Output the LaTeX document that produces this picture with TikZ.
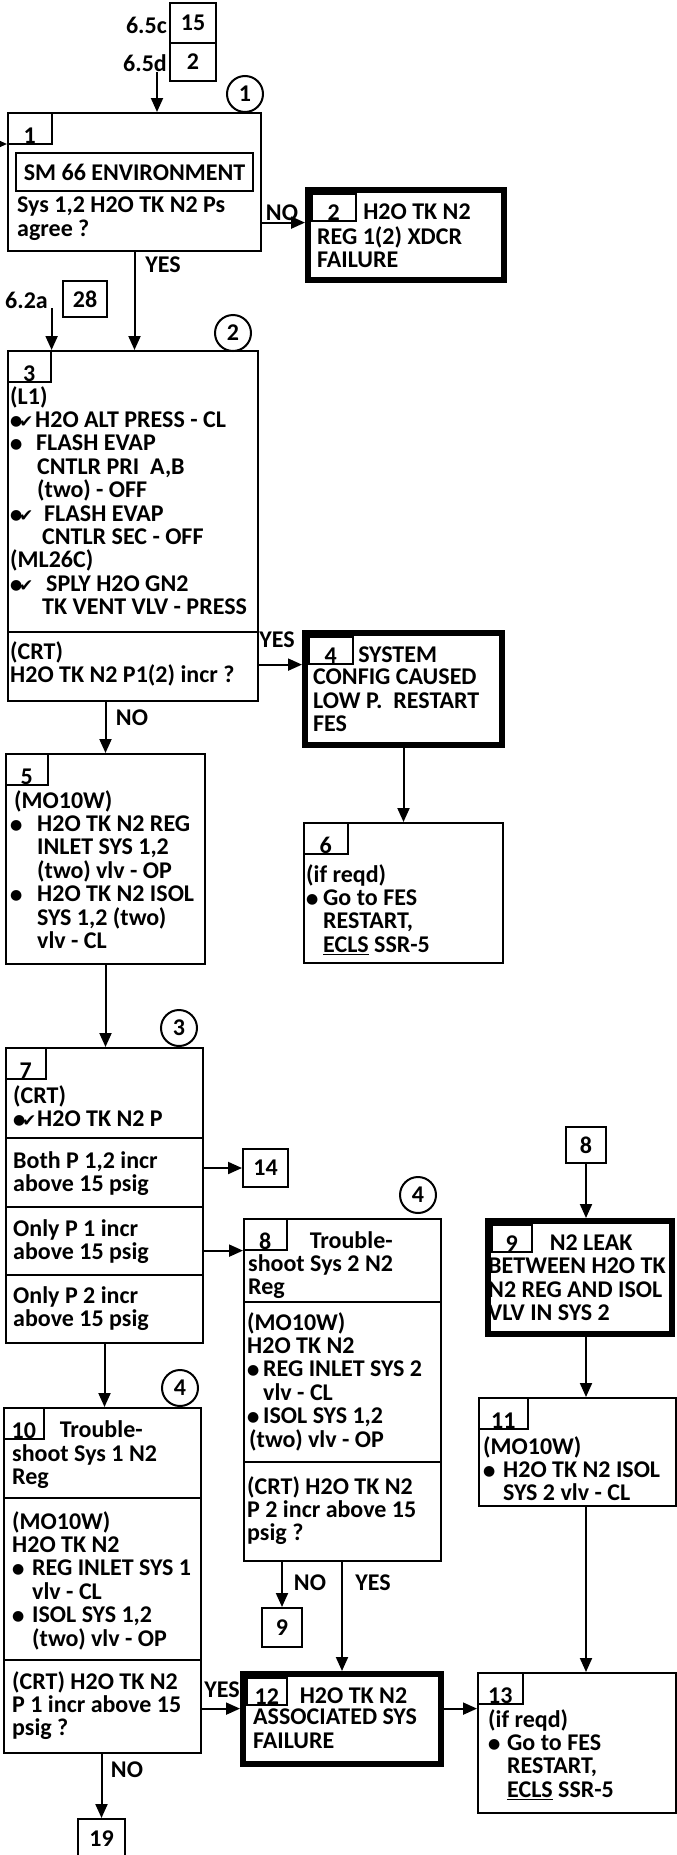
\documentclass[tikz,border=0pt]{standalone}
\usepackage{fontspec}
\setmainfont{Carlito}
\newfontfamily\symfont{DejaVu Sans}
\usetikzlibrary{arrows.meta}
\newcommand{\bul}[1][26pt]{\makebox[#1][l]{\raisebox{2pt}{\symfont\fontsize{14}{14}\selectfont ●}}}
\newcommand{\bc}[1][24pt]{\makebox[#1][l]{\makebox[9pt][l]{\raisebox{2pt}{\symfont\fontsize{14}{14}\selectfont ●}}{\symfont\fontsize{17}{17}\selectfont ✔}}}

\begin{document}
\begin{tikzpicture}[x=1pt, y=-1pt,
    every node/.style={font=\fontsize{24}{23.4}\selectfont\bfseries},
    box/.style={rectangle, draw, line width=2pt, anchor=north west, inner sep=0pt},
    fail/.style={box, line width=6pt},
    tab/.style={rectangle, draw, line width=1.6pt, anchor=north west, inner xsep=0pt, inner ysep=0.5pt, minimum width=44pt, minimum height=31pt, text height=30pt, text depth=0pt},
    ftab/.style={tab, minimum height=27pt, text height=26pt},
    txt/.style={anchor=north west, align=left, inner sep=0pt, yshift=2pt, execute at begin node={\rule{0pt}{18.5pt}}},
    ttl/.style={anchor=base west, inner sep=0pt},
    ref/.style={rectangle, draw, line width=2pt, inner sep=0pt},
    circ/.style={circle, draw, line width=2pt, minimum size=36pt, inner sep=0pt},
    lbl/.style={inner sep=0pt},
    arr/.style={-{Triangle[length=14pt, width=12pt]}, line width=2pt}]

    \useasboundingbox (0,0) rectangle (677,1855);
    \clip (0,0) rectangle (677,1855);

    % Entries
    \node[lbl, anchor=east] (l65c) at (167,25) {6.5c};
    \node[ref, minimum width=46pt, minimum height=40pt] (r15) at (193,23) {15};
    \node[lbl, anchor=east] (l65d) at (167,63) {6.5d};
    \node[ref, minimum width=46pt, minimum height=38pt] (r2) at (193,62) {2};
    \coordinate (in0) at (157,72);
    \coordinate (in1) at (0,144);

    % Block 1
    \node[box, minimum width=253pt, minimum height=138pt] (b1) at (7,112) {};
    \node[tab] (t1) at (b1.north west) {1};
    \node[circ] (c1) at (245,94) {1};
    \node[box, minimum width=237pt, minimum height=38pt] (env) at (15,152) {SM 66 ENVIRONMENT};
    \node[txt] (x1) at (17,199) {Sys 1,2 H2O TK N2 Ps\\agree ?};

    \node[fail, minimum width=196pt, minimum height=90pt] (b2) at (305,187) {};
    \node[ftab] (t2) at ([shift={(6pt,-6pt)}]b2.north west) {2};
    \node[ttl] (h2) at ([shift={(6.5pt,2.3pt)}]t2.south east) {H2O TK N2};
    \node[txt] (x2) at (317,228) {REG 1(2) XDCR\\FAILURE};

    % Block 2
    \node[lbl, anchor=east] (l62a) at (48,300) {6.2a};
    \node[ref, minimum width=44pt, minimum height=36pt] (r28) at (85,299) {28};
    \node[box, minimum width=250pt, minimum height=350pt] (b3) at (7,350) {};
    \node[tab, minimum width=43pt] (t3) at (b3.north west) {3};
    \node[circ] (c2) at (233,333) {2};
    \node[txt] (x3) at (10,388) {(L1)\\
        \bc[25pt]H2O ALT PRESS - CL\\
        \bul[26pt]FLASH EVAP\\
        \hspace*{27pt}CNTLR PRI\ \ A,B\\
        \hspace*{27pt}(two) - OFF\\
        \bc[34pt]FLASH EVAP\\
        \hspace*{32pt}CNTLR SEC - OFF\\
        (ML26C)\\
        \bc[36pt]SPLY H2O GN2\\
        \hspace*{32pt}TK VENT VLV - PRESS};
    \draw[line width=2pt] ([yshift=-282pt]b3.north west) -- ([yshift=-282pt]b3.north east);
    \node[txt] (x3b) at (10,643) {(CRT)\\H2O TK N2 P1(2) incr ?};

    \node[fail, minimum width=197pt, minimum height=112pt] (b4) at (302,630) {};
    \node[ftab] (t4) at ([shift={(6pt,-6pt)}]b4.north west) {4};
    \node[ttl] (h4) at ([shift={(4.5pt,2.3pt)}]t4.south east) {SYSTEM};
    \node[txt] (x4) at (313,671) {CONFIG CAUSED\\LOW P.\ \ RESTART\\FES};

    \node[box, minimum width=199pt, minimum height=140pt] (b6) at (303,822) {};
    \node[tab] (t6) at (b6.north west) {6};
    \node[txt] (x6) at (306,866) {(if reqd)\\ \bul[17pt]Go to FES\\ \hspace*{17pt}RESTART,\\ \hspace*{17pt}\underline{ECLS} SSR-5};

    \node[box, minimum width=199pt, minimum height=210pt] (b5) at (5,753) {};
    \node[tab, minimum width=42pt] (t5) at (b5.north west) {5};
    \node[txt] (x5) at (10,792) {\hspace*{4pt}(MO10W)\\
        \bul[27pt]H2O TK N2 REG\\
        \hspace*{27pt}INLET SYS 1,2\\
        \hspace*{27pt}(two) vlv - OP\\
        \bul[27pt]H2O TK N2 ISOL\\
        \hspace*{27pt}SYS 1,2 (two)\\
        \hspace*{27pt}vlv - CL};

    % Block 3
    \node[circ] (c3) at (179,1028) {3};
    \node[box, minimum width=197pt, minimum height=295pt] (b7) at (5,1047) {};
    \node[tab, minimum width=40pt] (t7) at (b7.north west) {7};
    \node[txt] (x7) at (13,1087) {(CRT)\\ \bc H2O TK N2 P};
    \draw[line width=2pt] ([yshift=-91pt]b7.north west) -- ([yshift=-91pt]b7.north east);
    \node[txt] (x7a) at (13,1153) {Both P 1,2 incr\\above 15 psig};
    \draw[line width=2pt] ([yshift=-160pt]b7.north west) -- ([yshift=-160pt]b7.north east);
    \node[txt] (x7b) at (13,1221) {Only P 1 incr\\above 15 psig};
    \draw[line width=2pt] ([yshift=-228pt]b7.north west) -- ([yshift=-228pt]b7.north east);
    \node[txt] (x7c) at (13,1288) {Only P 2 incr\\above 15 psig};
    \node[ref, minimum width=45pt, minimum height=38pt] (r14) at (265.5,1168) {14};

    % Block 4, sys 2
    \node[circ] (c4a) at (418,1195) {4};
    \node[box, minimum width=197pt, minimum height=342pt] (b8) at (243,1218) {};
    \node[tab, minimum width=43pt] (t8) at (b8.north west) {8};
    \node[ttl] (h8) at ([shift={(22pt,2.3pt)}]t8.south east) {Trouble-};
    \node[txt] (x8) at (248,1256) {shoot Sys 2 N2\\Reg};
    \draw[line width=2pt] ([yshift=-84pt]b8.north west) -- ([yshift=-84pt]b8.north east);
    \node[txt] (x8a) at (247,1314) {(MO10W)\\H2O TK N2\\
        \bul[16pt]REG INLET SYS 2\\
        \hspace*{16pt}vlv - CL\\
        \bul[16pt]ISOL SYS 1,2\\
        \hspace*{2pt}(two) vlv - OP};
    \draw[line width=2pt] ([yshift=-244pt]b8.north west) -- ([yshift=-244pt]b8.north east);
    \node[txt] (x8b) at (247,1478) {(CRT) H2O TK N2\\P 2 incr above 15\\psig ?};
    \node[ref, minimum width=40pt, minimum height=39pt] (r9) at (282,1627.5) {9};

    % Block 4, sys 1
    \node[circ] (c4b) at (180,1388) {4};
    \node[box, minimum width=197pt, minimum height=345pt] (b10) at (3,1407) {};
    \node[tab, minimum width=40pt] (t10) at (b10.north west) {10};
    \node[ttl] (h10) at ([shift={(15pt,2.3pt)}]t10.south east) {Trouble-};
    \node[txt] (x10) at (12,1446) {shoot Sys 1 N2\\Reg};
    \draw[line width=2pt] ([yshift=-91pt]b10.north west) -- ([yshift=-91pt]b10.north east);
    \node[txt] (x10a) at (12,1513) {(MO10W)\\H2O TK N2\\
        \bul[20pt]REG INLET SYS 1\\
        \hspace*{20pt}vlv - CL\\
        \bul[20pt]ISOL SYS 1,2\\
        \hspace*{20pt}(two) vlv - OP};
    \draw[line width=2pt] ([yshift=-253pt]b10.north west) -- ([yshift=-253pt]b10.north east);
    \node[txt] (x10b) at (12,1673) {(CRT) H2O TK N2\\P 1 incr above 15\\psig ?};
    \node[ref, anchor=north, minimum width=47pt, minimum height=40pt] (r19) at (101.5,1818) {19};

    \node[fail, minimum width=198pt, minimum height=90pt] (b12) at (240,1671) {};
    \node[ftab, minimum width=40pt] (t12) at ([shift={(6pt,-6pt)}]b12.north west) {12};
    \node[ttl] (h12) at ([shift={(12pt,2.3pt)}]t12.south east) {H2O TK N2};
    \node[txt] (x12) at (253,1711) {ASSOCIATED SYS\\FAILURE};

    \node[box, minimum width=198pt, minimum height=140pt] (b13) at (477,1672) {};
    \node[tab, minimum width=45pt] (t13) at (b13.north west) {13};
    \node[txt] (x13) at (488,1711) {(if reqd)\\ \bul[19pt]Go to FES\\ \hspace*{19pt}RESTART,\\ \hspace*{19pt}\underline{ECLS} SSR-5};

    % Right column
    \node[ref, minimum width=40pt, minimum height=36pt] (r8) at (586,1145) {8};
    \node[fail, minimum width=184pt, minimum height=113pt] (b9) at (485,1218) {};
    \node[ftab, minimum width=40pt] (t9) at ([shift={(6pt,-6pt)}]b9.north west) {9};
    \node[ttl] (h9) at ([shift={(17pt,2.3pt)}]t9.south east) {N2 LEAK};
    \node[txt] (x9) at (488,1260) {BETWEEN H2O TK\\N2 REG AND ISOL\\VLV IN SYS 2};

    \node[box, minimum width=197pt, minimum height=108pt] (b11) at (478,1397) {};
    \node[tab, minimum width=49pt] (t11) at (b11.north west) {11};
    \node[txt] (x11) at (483,1438) {(MO10W)\\ \bul[20pt]H2O TK N2 ISOL\\ \hspace*{20pt}SYS 2 vlv - CL};

    % Labels
    \node[lbl] (no1) at (282,213) {NO};
    \node[lbl] (yes1) at (163,265) {YES};
    \node[lbl] (yes3) at (277,640) {YES};
    \node[lbl] (no3) at (132,718) {NO};
    \node[lbl] (no8) at (310,1583) {NO};
    \node[lbl] (yes8) at (373,1583) {YES};
    \node[lbl] (yes10) at (222,1690) {YES};
    \node[lbl] (no10) at (127,1770) {NO};

    % Connectors
    \coordinate (y2) at ([yshift=-1pt]t2.south west);
    \coordinate (y12) at ([yshift=-3pt]t12.south west);
    \draw[arr] (in1) -- (in1 -| b1.west);
    \draw[arr] (in0) -- (in0 |- b1.north);
    \draw[arr] (b1.east |- y2) -- (b2.west |- y2);
    \draw[arr] (b1.south) -- (b1.south |- b3.north);
    \draw[arr] (t3.north east |- l62a.south) -- (t3.north east);
    \draw[arr] (b3.east |- t4.south west) -- (b4.west |- t4.south west);
    \draw[arr] (b5.north |- b3.south) -- (b5.north);
    \draw[arr] (b4.south) -- (b4.south |- b6.north);
    \draw[arr] (b5.south) -- (b5.south |- b7.north);
    \draw[arr] (b7.east |- r14.west) -- (r14.west);
    \draw[arr] (b7.east |- t8.south west) -- (t8.south west);
    \draw[arr] (b7.south) -- (b7.south |- b10.north);
    \draw[arr] (b8.south -| r9.north) -- (r9.north);
    \draw[arr] (b8.south -| b12.north) -- (b12.north);
    \draw[arr] (b10.east |- y12) -- (b12.west |- y12);
    \draw[arr] (b12.east |- y12) -- (b13.west |- y12);
    \draw[arr] (b10.south -| r19.north) -- (r19.north);
    \draw[arr] (r8.south) -- (r8.south |- b9.north);
    \draw[arr] (b9.south -| r8.south) -- (b11.north -| r8.south);
    \draw[arr] (b11.south -| r8.south) -- (b13.north -| r8.south);
\end{tikzpicture}
\end{document}
